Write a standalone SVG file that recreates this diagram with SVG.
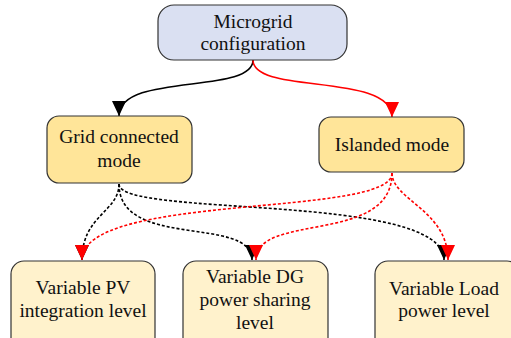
<svg xmlns="http://www.w3.org/2000/svg" width="511" height="338" viewBox="0 0 511 338">
<style>
.box{stroke:#333;stroke-width:1.2}
.top{fill:#dae0f2}
.mode{fill:#ffe599}
.leaf{fill:#fff2cc}
text{font-family:'Liberation Serif','Times New Roman','DejaVu Serif',serif;font-size:19.5px;fill:#111;text-anchor:middle}
.c{fill:none;stroke-width:1.6}
.k{stroke:#000}
.r{stroke:#f00}
.d{stroke-dasharray:3 2}
</style>
<defs>
<marker id="ak" markerUnits="userSpaceOnUse" markerWidth="18" markerHeight="18" refX="15" refY="7" orient="auto" viewBox="0 0 18 14">
<path d="M0,0 L15,7 L0,14 Z" fill="#000"/>
</marker>
<marker id="ar" markerUnits="userSpaceOnUse" markerWidth="18" markerHeight="18" refX="15" refY="7" orient="auto" viewBox="0 0 18 14">
<path d="M0,0 L15,7 L0,14 Z" fill="#f00"/>
</marker>
</defs>
<g id="connectors">
<path class="c k" d="M253,60 C253,95 119,72 119,116" marker-end="url(#ak)"/>
<path class="c r" d="M253,60 C253,95 392,72 392,117" marker-end="url(#ar)"/>
<path class="c k d" d="M119,184 C119,212 82,215 82,260" marker-end="url(#ak)"/>
<path class="c k d" d="M119,184 C119,250 252,215 252,260" marker-end="url(#ak)"/>
<path class="c k d" d="M119,184 C119,218 444,192 444,260" marker-end="url(#ak)"/>
<path class="c r d" d="M392,173 C392,218 82,192 82,260" marker-end="url(#ar)"/>
<path class="c r d" d="M392,173 C392,245 256,212 256,260" marker-end="url(#ar)"/>
<path class="c r d" d="M392,173 C392,200 448,210 448,260" marker-end="url(#ar)"/>
</g>
<g id="microgrid">
<rect class="box top" x="158" y="5" width="189" height="55" rx="16"/>
<text x="253" y="28" font-family="Liberation Serif">Microgrid</text>
<text x="253" y="50" font-family="Liberation Serif">configuration</text>
</g>
<g id="grid">
<rect class="box mode" x="47" y="116" width="145" height="67" rx="12"/>
<text x="119" y="143">Grid connected</text>
<text x="119" y="167">mode</text>
</g>
<g id="islanded">
<rect class="box mode" x="319" y="117" width="145" height="55" rx="12"/>
<text x="392" y="151">Islanded mode</text>
</g>
<g id="pv">
<rect class="box leaf" x="11" y="261" width="144" height="90" rx="13"/>
<text x="83" y="294">Variable PV</text>
<text x="83" y="317">integration level</text>
</g>
<g id="dg">
<rect class="box leaf" x="183" y="261" width="145" height="90" rx="13"/>
<text x="255" y="283">Variable DG</text>
<text x="255" y="306">power sharing</text>
<text x="255" y="329">level</text>
</g>
<g id="load">
<rect class="box leaf" x="375" y="261" width="145" height="90" rx="13"/>
<text x="444" y="295">Variable Load</text>
<text x="444" y="317">power level</text>
</g>
</svg>
